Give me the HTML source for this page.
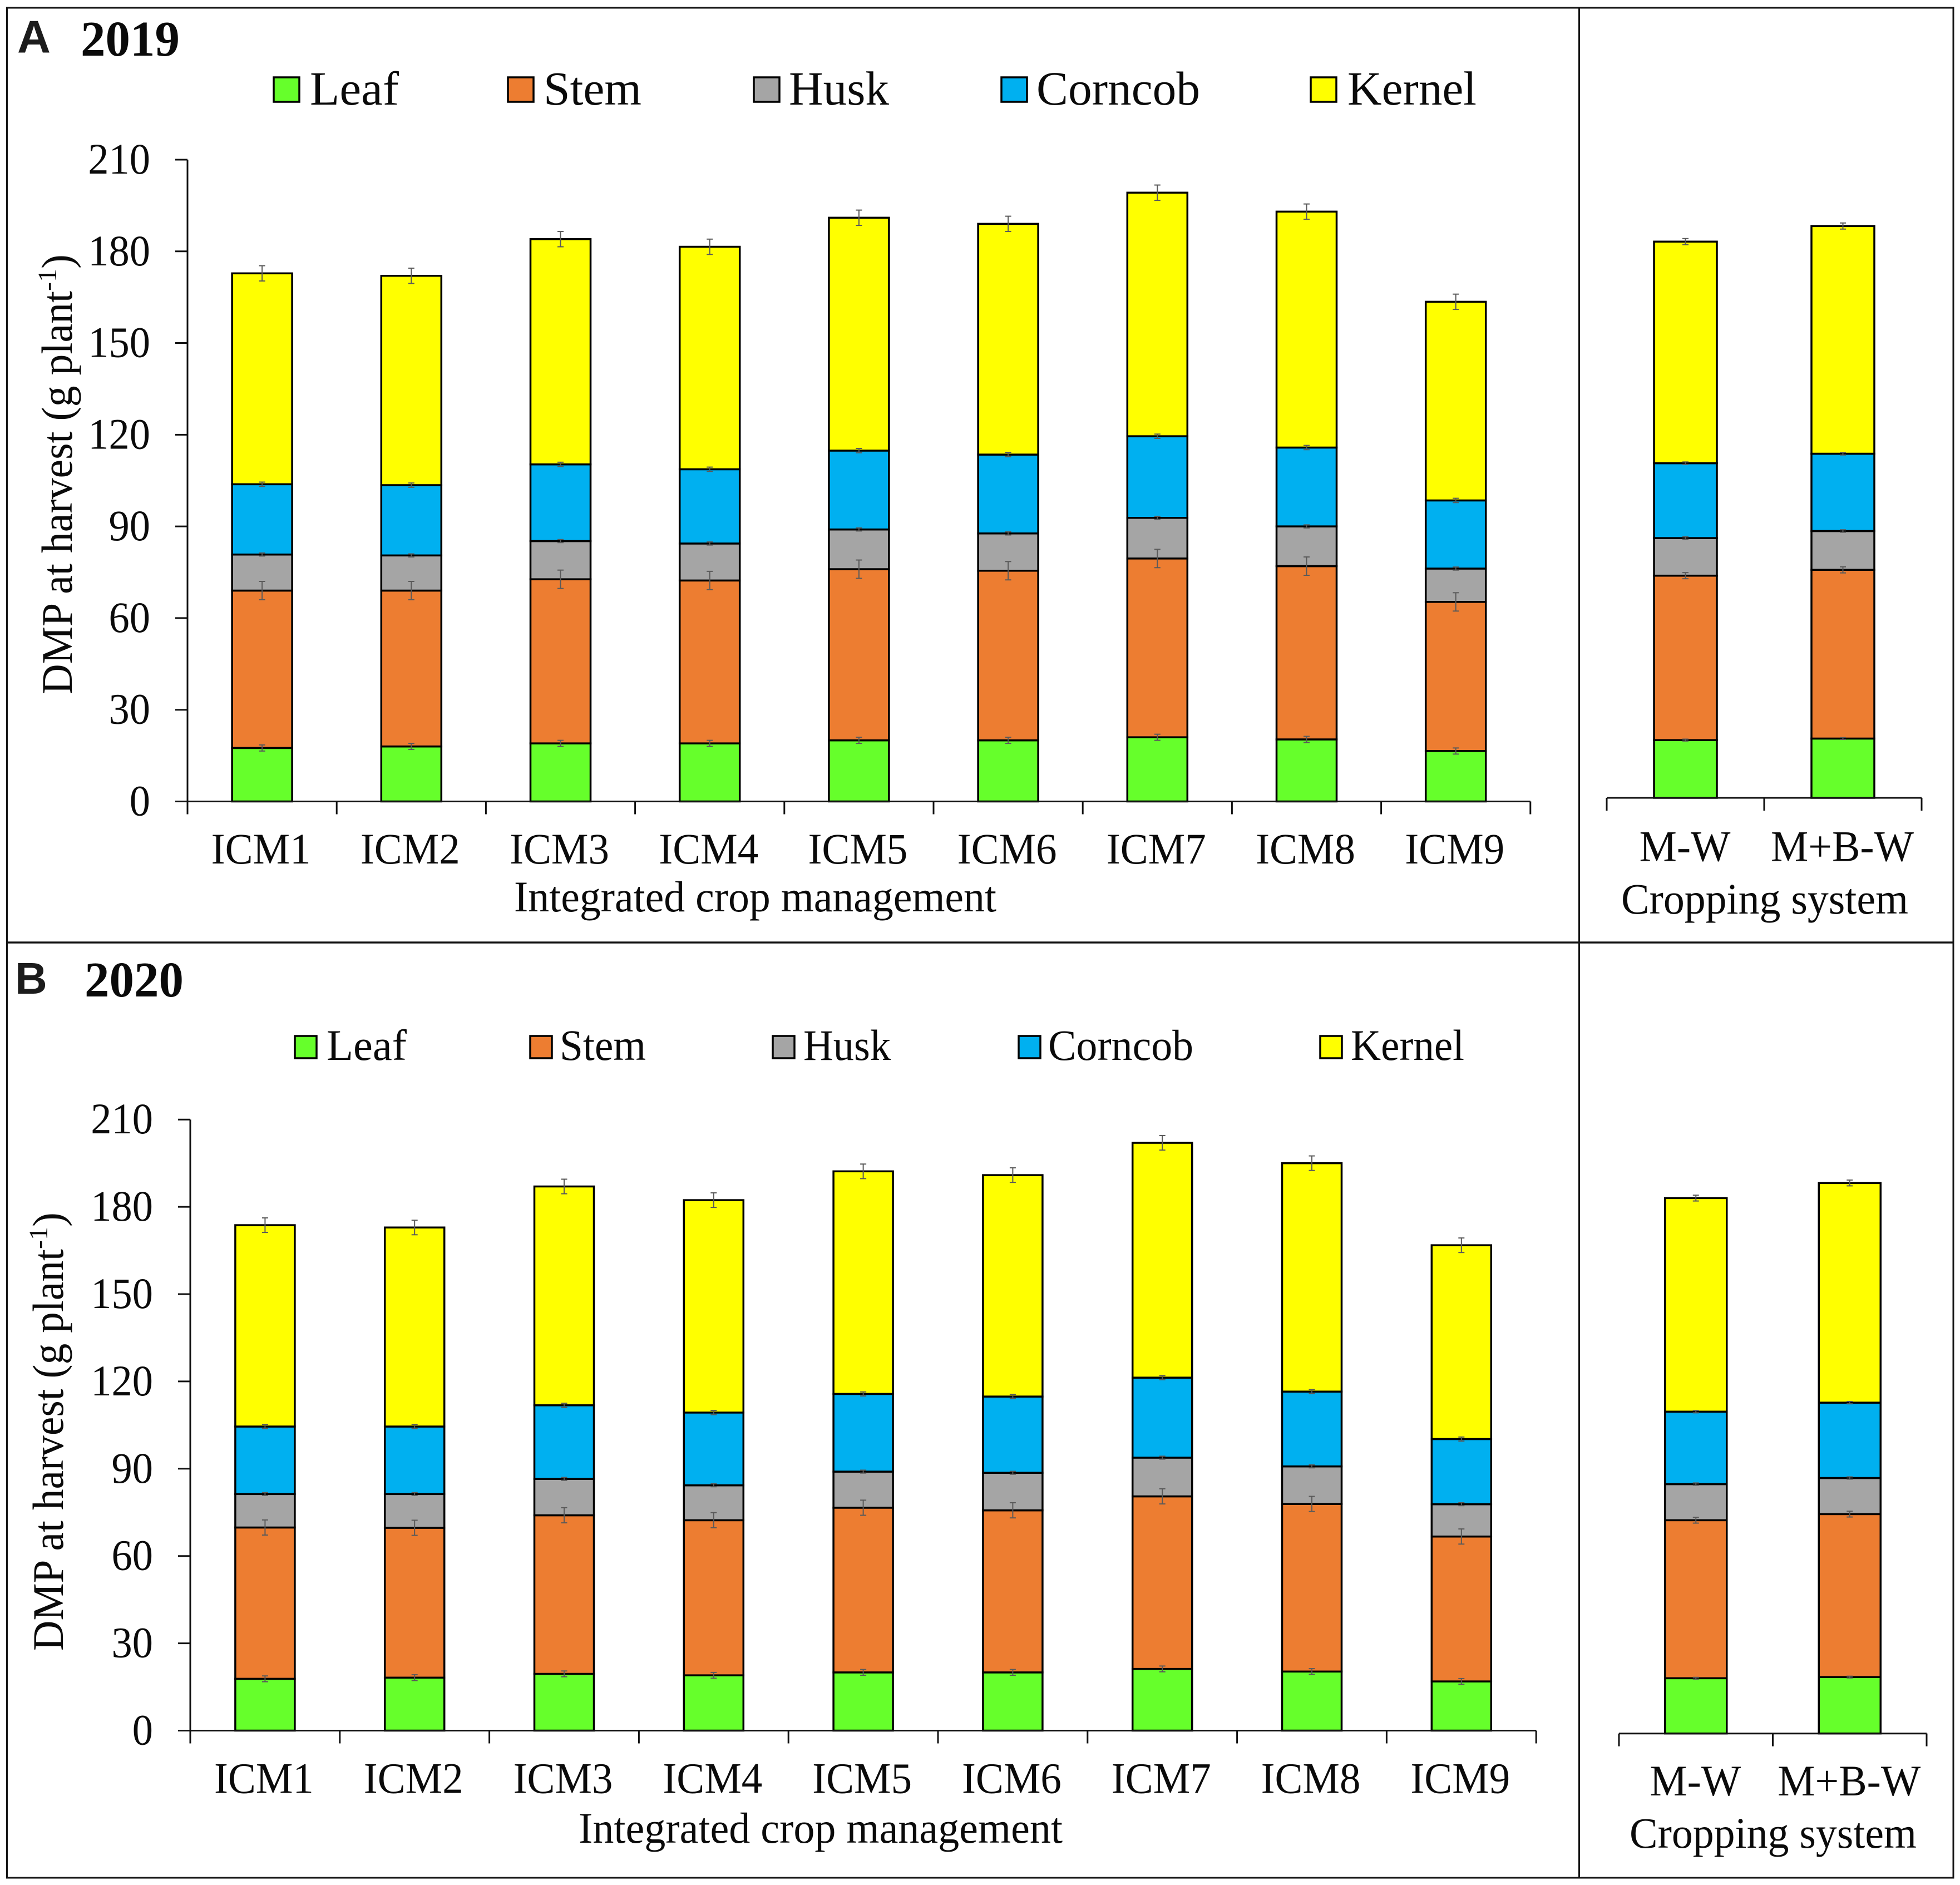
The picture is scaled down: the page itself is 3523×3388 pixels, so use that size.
<!DOCTYPE html>
<html lang="en">
<head>
<meta charset="utf-8">
<title>DMP at harvest by crop management and cropping system</title>
<style>
html,body{margin:0;padding:0;background:#fff;}
svg{display:block;}
text{font-family:"Liberation Serif",serif;fill:#0a0a0a;}
.sans{font-family:"Liberation Sans",sans-serif;font-weight:700;fill:#1c1c1c;}
</style>
</head>
<body>
<svg id="chart" xmlns="http://www.w3.org/2000/svg" width="3523" height="3388" viewBox="0 0 3523 3388">
  <rect x="0" y="0" width="3523" height="3388" fill="#fff"/>
  <g stroke="#151515" fill="none">
    <rect x="12.5" y="14" width="3498.5" height="3361" stroke-width="3"/>
    <line x1="12.5" y1="1694" x2="3511" y2="1694" stroke-width="3.5"/>
    <line x1="2838.5" y1="14" x2="2838.5" y2="3375" stroke-width="3"/>
  </g>

  <text class="sans" x="31" y="94.5" font-size="83">A</text>
  <text x="145" y="100" font-size="90" font-weight="700" textLength="178" lengthAdjust="spacingAndGlyphs">2019</text>
  <text class="sans" x="27" y="1786" font-size="80">B</text>
  <text x="152" y="1791" font-size="90" font-weight="700" textLength="178" lengthAdjust="spacingAndGlyphs">2020</text>

  <g>
    <g><rect x="492" y="139" width="46" height="44" fill="#66FF2B" stroke="#000" stroke-width="3.5"/><text x="557" y="188" font-size="86" textLength="160" lengthAdjust="spacingAndGlyphs">Leaf</text></g>
    <g><rect x="913" y="139" width="46" height="44" fill="#ED7D31" stroke="#000" stroke-width="3.5"/><text x="977" y="188" font-size="86" textLength="176" lengthAdjust="spacingAndGlyphs">Stem</text></g>
    <g><rect x="1355" y="139" width="46" height="44" fill="#A5A5A5" stroke="#000" stroke-width="3.5"/><text x="1418" y="188" font-size="86" textLength="180" lengthAdjust="spacingAndGlyphs">Husk</text></g>
    <g><rect x="1800" y="139" width="46" height="44" fill="#00B0F0" stroke="#000" stroke-width="3.5"/><text x="1863" y="188" font-size="86" textLength="294" lengthAdjust="spacingAndGlyphs">Corncob</text></g>
    <g><rect x="2356" y="139" width="46" height="44" fill="#FFFF00" stroke="#000" stroke-width="3.5"/><text x="2422" y="188" font-size="86" textLength="232" lengthAdjust="spacingAndGlyphs">Kernel</text></g>
  </g>
  <g>
    <g><rect x="530" y="1862" width="39" height="40" fill="#66FF2B" stroke="#000" stroke-width="3.5"/><text x="587" y="1905" font-size="78" textLength="144" lengthAdjust="spacingAndGlyphs">Leaf</text></g>
    <g><rect x="953" y="1862" width="39" height="40" fill="#ED7D31" stroke="#000" stroke-width="3.5"/><text x="1006" y="1905" font-size="78" textLength="155" lengthAdjust="spacingAndGlyphs">Stem</text></g>
    <g><rect x="1389" y="1862" width="39" height="40" fill="#A5A5A5" stroke="#000" stroke-width="3.5"/><text x="1444" y="1905" font-size="78" textLength="157" lengthAdjust="spacingAndGlyphs">Husk</text></g>
    <g><rect x="1831" y="1862" width="39" height="40" fill="#00B0F0" stroke="#000" stroke-width="3.5"/><text x="1884" y="1905" font-size="78" textLength="261" lengthAdjust="spacingAndGlyphs">Corncob</text></g>
    <g><rect x="2373" y="1862" width="39" height="40" fill="#FFFF00" stroke="#000" stroke-width="3.5"/><text x="2428" y="1905" font-size="78" textLength="204" lengthAdjust="spacingAndGlyphs">Kernel</text></g>
  </g>

  <g transform="translate(129 1248) rotate(-90)">
    <text x="0" y="0" font-size="78" textLength="725" lengthAdjust="spacingAndGlyphs">DMP at harvest (g plant</text>
    <text x="725" y="-28" font-size="48">-1</text>
    <text x="765" y="0" font-size="78">)</text>
  </g>
  <g transform="translate(113 2967) rotate(-90)">
    <text x="0" y="0" font-size="78" textLength="722" lengthAdjust="spacingAndGlyphs">DMP at harvest (g plant</text>
    <text x="722" y="-28" font-size="48">-1</text>
    <text x="762" y="0" font-size="78">)</text>
  </g>

  <text x="924" y="1638" font-size="78" textLength="867" lengthAdjust="spacingAndGlyphs">Integrated crop management</text>
  <text x="2914" y="1642" font-size="78" textLength="516" lengthAdjust="spacingAndGlyphs">Cropping system</text>
  <text x="1040" y="3312" font-size="78" textLength="870" lengthAdjust="spacingAndGlyphs">Integrated crop management</text>
  <text x="2929" y="3321" font-size="78" textLength="516" lengthAdjust="spacingAndGlyphs">Cropping system</text>

  <g id="marks"></g>
</svg>
<script>
const seriesNames = ['leaf','stem','husk','corncob','kernel'];
const seriesColors = ['#66FF2B','#ED7D31','#A5A5A5','#00B0F0','#FFFF00'];
const icmCategories = ['ICM1','ICM2','ICM3','ICM4','ICM5','ICM6','ICM7','ICM8','ICM9'];
const csCategories = ['M-W','M+B-W'];
const yTickValues = [0,30,60,90,120,150,180,210];

// Panel A (2019), integrated crop management
const a_icm_leaf    = [17.5,18,19,19,20,20,21,20.3,16.5];
const a_icm_stem    = [51.5,51,53.7,53.3,56,55.5,58.5,56.7,48.8];
const a_icm_husk    = [11.8,11.5,12.5,12.1,13,12.2,13.3,13,10.9];
const a_icm_corncob = [23,23,25.1,24.3,25.8,25.8,26.7,25.8,22.3];
const a_icm_kernel  = [69,68.5,73.7,72.8,76.2,75.5,79.7,77.2,65];
// Panel A (2019), cropping system
const a_cs_leaf    = [18.9,19.4];
const a_cs_stem    = [53.8,55.2];
const a_cs_husk    = [12.3,12.7];
const a_cs_corncob = [24.5,25.3];
const a_cs_kernel  = [72.5,74.5];
// Panel B (2020), integrated crop management
const b_icm_leaf    = [17.8,18.2,19.5,19,20,20,21.2,20.3,16.9];
const b_icm_stem    = [52,51.5,54.5,53.3,56.6,55.7,59.3,57.6,49.8];
const b_icm_husk    = [11.5,11.6,12.5,12,12.4,12.9,13.3,12.9,11.1];
const b_icm_corncob = [23.2,23.2,25.3,25,26.7,26.2,27.5,25.7,22.4];
const b_icm_kernel  = [69.2,68.4,75.2,73,76.5,76.1,80.7,78.5,66.6];
// Panel B (2020), cropping system
const b_cs_leaf    = [19,19.4];
const b_cs_stem    = [54.3,56];
const b_cs_husk    = [12.4,12.4];
const b_cs_corncob = [24.9,25.9];
const b_cs_kernel  = [73.4,75.5];
// Error half-widths (one per stacked segment)
const a_icmErrors = [1,3,0.5,0.7,2.5];
const b_icmErrors = [1,2.6,0.5,0.7,2.5];
const csErrors = [0.3,1,0.4,0.4,1];

const SVGNS = 'http://www.w3.org/2000/svg';
const root = document.getElementById('marks');

function line(parent, name, x1, y1, x2, y2, color, width) {
  const el = document.createElementNS(SVGNS, 'line');
  el.setAttribute('x1', x1);
  el.setAttribute('y1', y1);
  el.setAttribute('x2', x2);
  el.setAttribute('y2', y2);
  el.setAttribute('stroke', color);
  el.setAttribute('stroke-width', width);
  
  
  parent.appendChild(el);
  return el;
}
function label(parent, name, x, y, str, anchor, squeeze) {
  const el = document.createElementNS(SVGNS, 'text');
  el.setAttribute('transform', 'translate(' + x + ' ' + y + ') scale(' + squeeze + ' 1)');
  el.setAttribute('font-size', '78');
  el.setAttribute('text-anchor', anchor);
  el.textContent = str;
  
  
  parent.appendChild(el);
  return el;
}
function drawStack(parent, prefix, cats, series, errors, axis) {
  const xOf = i => axis.left + axis.step * (i + 0.5);
  const yOf = v => axis.base - v * axis.unit;
  cats.forEach((cat, i) => {
    let total = 0;
    const tops = [];
    series.forEach((values, s) => {
      const y0 = yOf(total);
      total += values[i];
      const y1 = yOf(total);
      tops.push(total);
      const r = document.createElementNS(SVGNS, 'rect');
      r.setAttribute('x', xOf(i) - axis.bar / 2);
      r.setAttribute('y', y1);
      r.setAttribute('width', axis.bar);
      r.setAttribute('height', y0 - y1);
      r.setAttribute('fill', seriesColors[s]);
      r.setAttribute('stroke', '#000');
      r.setAttribute('stroke-width', '3.5');
      
      
      parent.appendChild(r);
    });
    tops.forEach((t, s) => {
      const cx = xOf(i), hi = yOf(t + errors[s]), lo = yOf(t - errors[s]);
      const g = document.createElementNS(SVGNS, 'g');
      
      
      parent.appendChild(g);
      line(g, 'error-stem', cx, hi, cx, lo, '#5a5a5a', 2);
      line(g, 'error-cap-top', cx - 5.5, hi, cx + 5.5, hi, '#5a5a5a', 2);
      line(g, 'error-cap-bottom', cx - 5.5, lo, cx + 5.5, lo, '#5a5a5a', 2);
    });
    label(parent, prefix + '-x-label-' + cat, xOf(i) + axis.labelShift, axis.labelY, cat, 'middle', axis.squeeze);
  });
  const right = axis.left + axis.step * cats.length;
  line(parent, prefix + '-x-axis-line', axis.yAxis ? axis.left - 22 : axis.left, axis.base, right, axis.base, '#111', 3);
  cats.concat(['']).forEach((c, i) => {
    const x = axis.left + axis.step * i;
    line(parent, prefix + '-x-tick-' + i, x, axis.base, x, axis.base + 23, '#111', 3);
  });
  if (axis.yAxis) {
    line(parent, prefix + '-y-axis-line', axis.left, yOf(210), axis.left, axis.base, '#111', 3);
    yTickValues.forEach(v => {
      line(parent, prefix + '-y-tick-' + v, axis.left - 22, yOf(v), axis.left, yOf(v), '#111', 3);
      label(parent, prefix + '-y-label-' + v, axis.left - 67, yOf(v) + 25, String(v), 'end', 0.955);
    });
  }
}

function drawPanel(name, icmSeries, csSeries, icmErrors, ia, ca) {
  const g = document.createElementNS(SVGNS, 'g');
  
  
  root.appendChild(g);
  drawStack(g, name + '-icm', icmCategories, icmSeries, icmErrors, ia);
  drawStack(g, name + '-cs', csCategories, csSeries, csErrors, ca);
}

drawPanel('panel-a',
  [a_icm_leaf,a_icm_stem,a_icm_husk,a_icm_corncob,a_icm_kernel],
  [a_cs_leaf,a_cs_stem,a_cs_husk,a_cs_corncob,a_cs_kernel],
  a_icmErrors,
  {left:337, step:268.2, base:1440.5, unit:5.493, bar:108, labelY:1552, labelShift:-2, squeeze:0.96, yAxis:true},
  {left:2888, step:283, base:1434, unit:5.493, bar:113, labelY:1547.5, labelShift:-1, squeeze:0.97, yAxis:false});
drawPanel('panel-b',
  [b_icm_leaf,b_icm_stem,b_icm_husk,b_icm_corncob,b_icm_kernel],
  [b_cs_leaf,b_cs_stem,b_cs_husk,b_cs_corncob,b_cs_kernel],
  b_icmErrors,
  {left:342, step:268.8, base:3110.5, unit:5.23, bar:107, labelY:3222.5, labelShift:-2, squeeze:0.96, yAxis:true},
  {left:2910, step:276.5, base:3115.7, unit:5.23, bar:111, labelY:3227, labelShift:-1, squeeze:0.97, yAxis:false});
</script>
</body>
</html>
